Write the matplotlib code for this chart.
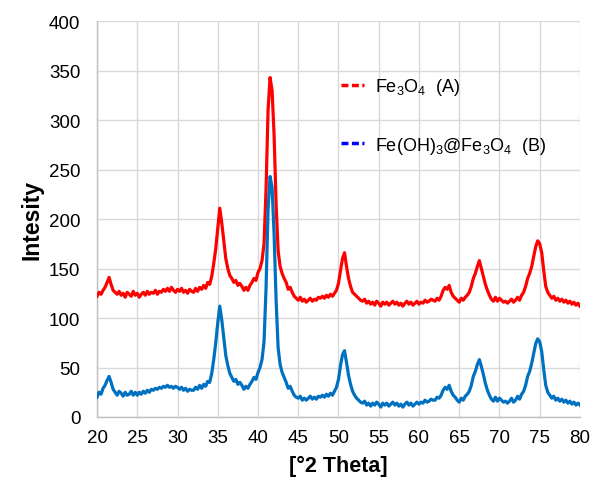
import numpy as np
import matplotlib
matplotlib.use("Agg")
import matplotlib.pyplot as plt
from matplotlib.lines import Line2D

plt.rcParams['font.family'] = ['Liberation Sans', 'DejaVu Sans']
plt.rcParams['mathtext.fontset'] = 'custom'
plt.rcParams['mathtext.rm'] = 'Liberation Sans'
plt.rcParams['mathtext.it'] = 'Liberation Sans:italic'
plt.rcParams['mathtext.bf'] = 'Liberation Sans:bold'

# 2-theta grid (0.25 degree steps, 20..80)
two_theta = np.arange(20, 80.001, 0.25)

fe3o4_A = [
    122, 126, 124, 128,
    131, 136, 141, 134,
    128, 126, 124, 127,
    123, 125, 121, 126,
    124, 122, 127, 123,
    125, 121, 124, 126,
    123, 127, 124, 126,
    125, 128, 124, 127,
    126, 129, 127, 130,
    127, 131, 128, 126,
    129, 127, 130, 126,
    128, 125, 129, 127,
    126, 130, 127, 131,
    129, 133, 130, 136,
    134, 142, 155, 170,
    190, 211, 196, 178,
    160, 150, 143, 140,
    136, 138, 133, 135,
    132, 128, 131, 128,
    133, 136, 140, 138,
    146, 150, 158, 175,
    230, 310, 343, 330,
    285, 215, 168, 152,
    145, 140, 136, 129,
    131, 126, 122, 120,
    118, 121, 117, 119,
    116, 118, 120, 117,
    119, 118, 121, 120,
    122, 120, 123, 121,
    124, 122, 125, 128,
    135, 148, 160, 166,
    152, 140, 132, 126,
    124, 122, 120, 118,
    117, 119, 115, 117,
    114, 116, 113, 117,
    115, 112, 116, 114,
    116, 113, 115, 117,
    114, 116, 113, 115,
    112, 115, 117, 114,
    116, 113, 115, 117,
    114, 116, 115, 118,
    116, 117, 119, 118,
    117, 120, 118, 122,
    128, 131, 129, 133,
    126, 122, 120, 118,
    116, 120, 118, 121,
    123, 126, 132, 140,
    145, 152, 158, 150,
    142, 134, 128, 123,
    119, 117, 121, 117,
    120, 118, 116, 117,
    115, 117, 119, 116,
    118, 121, 118, 123,
    126, 132, 140, 145,
    152, 162, 172, 178,
    175, 166, 148, 132,
    126, 123, 120, 122,
    118, 120, 117, 119,
    116, 118, 115, 117,
    114, 116, 113, 115,
    112,
]

feoh3_fe3o4_B = [
    20, 25, 23, 29,
    32, 37, 41, 35,
    28, 25, 22, 26,
    24, 21, 25, 22,
    23, 26, 22, 25,
    22, 25, 23, 26,
    24, 27, 25, 28,
    27, 29, 28, 30,
    29, 31, 30, 32,
    30, 31, 29, 31,
    30, 28, 30, 27,
    29, 26, 28, 27,
    27, 30, 28, 32,
    29, 33, 31, 36,
    35, 44, 58, 75,
    95, 112, 98, 80,
    62, 52, 44, 40,
    36, 38, 33, 35,
    32, 28, 31, 29,
    33, 36, 40, 38,
    45, 50, 58, 76,
    130, 210, 243, 232,
    185, 118, 70, 53,
    45, 40, 35, 29,
    31, 26, 22, 20,
    19, 21, 17, 19,
    17, 19, 21, 18,
    20, 18, 21, 20,
    22, 20, 23, 21,
    24, 22, 26, 30,
    38, 52, 63, 67,
    55, 42, 33, 26,
    22, 19, 17, 15,
    14, 16, 12, 14,
    11, 14, 12, 15,
    13, 10, 14, 12,
    14, 11, 13, 15,
    12, 14, 11, 13,
    10, 13, 15, 12,
    14, 11, 13, 15,
    13, 15, 14, 17,
    15, 16, 18, 17,
    17, 20, 19, 22,
    27, 30, 28, 32,
    26, 22, 20, 17,
    15, 19, 17, 21,
    23, 26, 32, 41,
    46, 53, 58, 51,
    43, 34, 27, 22,
    18, 16, 20, 16,
    19, 17, 15, 16,
    14, 16, 19, 15,
    17, 21, 18, 23,
    26, 32, 41, 46,
    54, 64, 74, 79,
    76, 66, 48, 32,
    25, 22, 19, 21,
    17, 19, 16, 18,
    15, 17, 14, 16,
    13, 15, 12, 14,
    12,
]

x_ticks = [20, 25, 30, 35, 40, 45, 50, 55, 60, 65, 70, 75, 80]
y_ticks = [0, 50, 100, 150, 200, 250, 300, 350, 400]
labels = ["Fe$_3$O$_4$  (A)", "Fe(OH)$_3$@Fe$_3$O$_4$  (B)"]

fig = plt.figure(figsize=(5.93, 4.81), dpi=100)
ax = fig.add_axes([0.1636, 0.131, 0.8144, 0.823])

ax.plot(two_theta, fe3o4_A, color='#FF0000', lw=2.3, zorder=3)
ax.plot(two_theta, feoh3_fe3o4_B, color='#0070C0', lw=2.3, zorder=3)

ax.set_xlim(20, 80)
ax.set_ylim(0, 400)
ax.set_xticks(x_ticks)
ax.set_yticks(y_ticks)
ax.grid(True, color='#D9D9D9', lw=1.0, zorder=0)
ax.set_axisbelow(True)
for s in ['top', 'right']:
    ax.spines[s].set_visible(False)
for s in ['left', 'bottom']:
    ax.spines[s].set_color('#BFBFBF')
    ax.spines[s].set_linewidth(1.0)
ax.tick_params(axis='both', length=0, labelsize=13.5, colors='#000000')
ax.tick_params(axis='y', pad=12)
ax.tick_params(axis='x', pad=9)

ax.set_xlabel('[°2 Theta]', fontsize=15.5, fontweight='bold', labelpad=6)
ax.set_ylabel('Intesity', fontsize=16.5, fontweight='bold', labelpad=4)

handles = [Line2D([], [], color='#FF0000', lw=2.5, ls=(0, (2, 1))),
           Line2D([], [], color='#0000FF', lw=2.5, ls=(0, (2, 1)))]
ax.legend(handles, labels, loc='upper left', bbox_to_anchor=(0.49, 0.88),
          frameon=False, fontsize=13, handlelength=1.3, handletextpad=0.6,
          labelspacing=2.1, borderaxespad=0)

fig.savefig('out.png', dpi=100)
